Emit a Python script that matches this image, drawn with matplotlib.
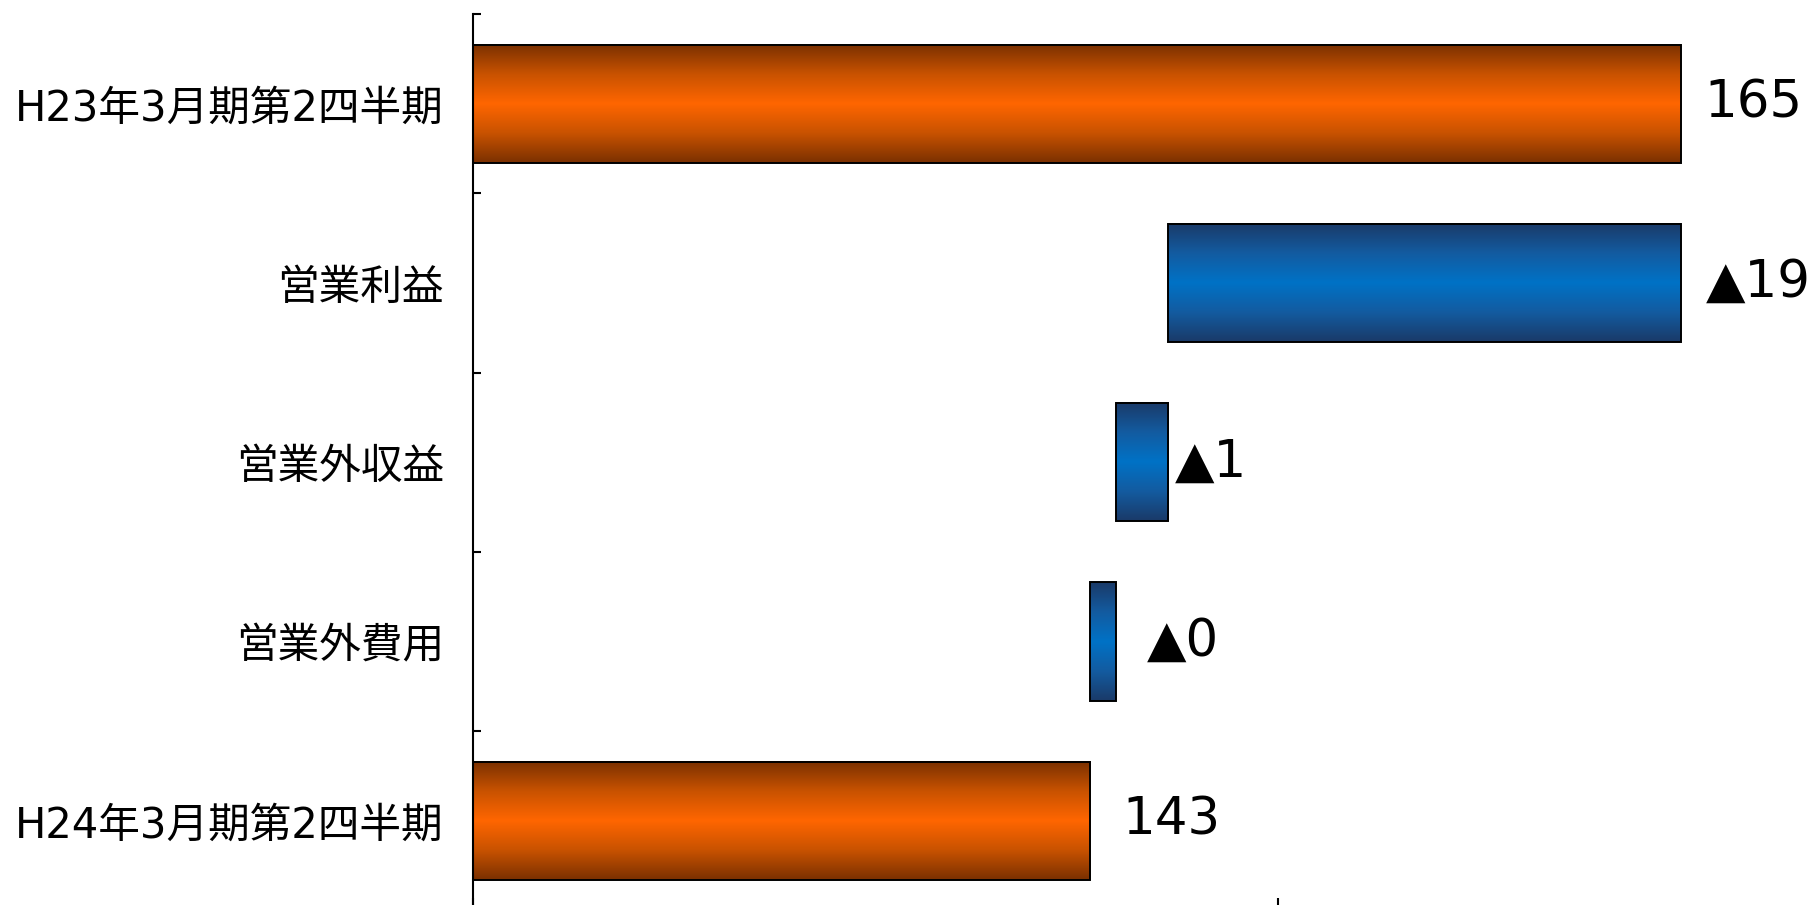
import numpy as np
import matplotlib
matplotlib.use("Agg")
import matplotlib.pyplot as plt
from matplotlib.colors import LinearSegmentedColormap

# waterfall data (億円)
categories = ["H23年3月期第2四半期", "営業利益", "営業外収益", "営業外費用", "H24年3月期第2四半期"]
values = [165.0, -19.1, -1.95, -0.95, 143.0]
kinds = ["total", "delta", "delta", "delta", "total"]
x_ticks = [120, 150]

# latin digits from DejaVu, kanji fall back to Noto CJK
plt.rcParams["font.family"] = ["DejaVu Sans", "Noto Sans CJK JP"]


def plot():
    fig = plt.figure(figsize=(18.11, 9.05), dpi=100)
    ax = fig.add_axes([0.2612, -0.0061, 0.741, 0.9906])

    orange = LinearSegmentedColormap.from_list("og", ["#7A3000", "#C85200", "#FF6600", "#C85200", "#7A3000"])
    blue = LinearSegmentedColormap.from_list("bl", ["#1A3A68", "#135BA0", "#0072C6", "#135BA0", "#1A3A68"])
    grad = np.linspace(0, 1, 256).reshape(-1, 1)

    y = np.arange(len(categories))
    lefts, widths = [], []
    level = 0.0
    for v, k in zip(values, kinds):
        if k == "total":
            lefts.append(0.0)
            widths.append(v)
            level = v
        else:
            lefts.append(level + v)
            widths.append(-v)
            level = level + v

    bars = ax.barh(y, widths, left=lefts, height=0.66, facecolor="none",
                   edgecolor="black", linewidth=1.4, zorder=3)

    for b, k in zip(bars, kinds):
        x0, x1 = b.get_x(), b.get_x() + b.get_width()
        y0, y1 = b.get_y(), b.get_y() + b.get_height()
        ax.imshow(grad, cmap=orange if k == "total" else blue, aspect="auto",
                  extent=[x0, x1, y1, y0], zorder=2, interpolation="bilinear")

    # value labels
    pads_px = [24, 25, 7, 31, 32]
    for b, v, k, p in zip(bars, values, kinds, pads_px):
        txt = f"{v:.0f}" if k == "total" else "▲" + str(int(abs(v)))
        ax.annotate(txt, (b.get_x() + b.get_width(), b.get_y() + b.get_height() / 2),
                    xytext=(p * 0.72, 0), textcoords="offset points",
                    ha="left", va="center", fontsize=37, color="black",
                    annotation_clip=False)

    ax.set_xlim(120, 170)
    ax.set_ylim(len(categories) - 0.5, -0.5)

    ax.set_yticks(y)
    ax.set_yticklabels(categories, fontsize=30)
    ax.set_yticks(np.arange(len(categories) + 1) - 0.5, minor=True)
    ax.tick_params(axis="y", which="major", length=0, pad=21)
    ax.tick_params(axis="y", which="minor", direction="in", length=6, width=1.5)

    ax.set_xticks(x_ticks)
    ax.tick_params(axis="x", direction="in", length=9.5, width=1.5, labelbottom=False)

    for s in ["top", "right"]:
        ax.spines[s].set_visible(False)
    for s in ["left", "bottom"]:
        ax.spines[s].set_linewidth(1.5)

    fig.savefig("out.png", dpi=100)
    plt.close(fig)


if __name__ == "__main__":
    plot()
